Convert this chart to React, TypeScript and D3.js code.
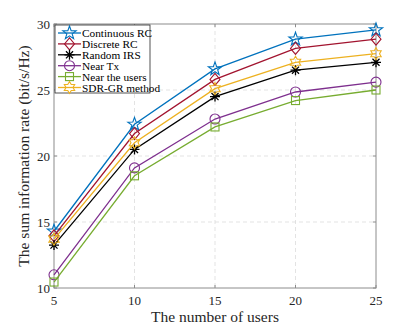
import React from 'react';
import * as d3 from 'd3';

const users = [5, 10, 15, 20, 25];
const continuousRC = [14.3, 22.4, 26.6, 28.85, 29.55];
const discreteRC = [13.95, 21.7, 25.8, 28.15, 28.85];
const randomIRS = [13.25, 20.5, 24.5, 26.5, 27.1];
const nearTx = [11.0, 19.1, 22.8, 24.85, 25.6];
const nearUsers = [10.45, 18.5, 22.2, 24.2, 25.0];
const sdrGR = [13.7, 21.0, 25.1, 27.1, 27.75];

const xTicks = [5, 10, 15, 20, 25];
const yTicks = [10, 15, 20, 25, 30];

const series = [
  { name: 'Continuous RC', values: continuousRC, color: '#0072BD', marker: 'star' },
  { name: 'Discrete RC', values: discreteRC, color: '#A2142F', marker: 'diamond' },
  { name: 'Random IRS', values: randomIRS, color: '#000000', marker: 'asterisk' },
  { name: 'Near Tx', values: nearTx, color: '#7E2F8E', marker: 'circle' },
  { name: 'Near the users', values: nearUsers, color: '#77AC30', marker: 'square' },
  { name: 'SDR-GR method', values: sdrGR, color: '#EDB120', marker: 'hexagram' },
];

const width = 415;
const height = 327;
const margin = { left: 54, right: 39, top: 24, bottom: 39 };

// marker drawn around (0,0)
const Marker = ({ type, color }: { type: string; color: string }) => {
  const common = { fill: 'none', stroke: color, strokeWidth: 1.1 };
  if (type === 'star') {
    const pts: string[] = [];
    for (let i = 0; i < 10; i++) {
      const r = i % 2 === 0 ? 7 : 2.8;
      const a = -Math.PI / 2 + (i * Math.PI) / 5;
      pts.push(`${r * Math.cos(a)},${r * Math.sin(a)}`);
    }
    return <polygon points={pts.join(' ')} {...common} />;
  }
  if (type === 'hexagram') {
    const pts: string[] = [];
    for (let i = 0; i < 12; i++) {
      const r = i % 2 === 0 ? 6 : 3.5;
      const a = -Math.PI / 2 + (i * Math.PI) / 6;
      pts.push(`${r * Math.cos(a)},${r * Math.sin(a)}`);
    }
    return <polygon points={pts.join(' ')} {...common} />;
  }
  if (type === 'diamond') {
    return <polygon points="0,-6 5,0 0,6 -5,0" {...common} />;
  }
  if (type === 'circle') {
    return <circle r={5} {...common} />;
  }
  if (type === 'square') {
    return <rect x={-4} y={-4} width={8} height={8} {...common} />;
  }
  // asterisk
  const lines = [0, 45, 90, 135].map((deg) => {
    const a = (deg * Math.PI) / 180;
    return `M${-5 * Math.cos(a)},${-5 * Math.sin(a)}L${5 * Math.cos(a)},${5 * Math.sin(a)}`;
  });
  return <path d={lines.join('')} fill="none" stroke={color} strokeWidth={1.3} />;
};

export default function App() {
  const xScale = d3.scaleLinear().domain([5, 25]).range([margin.left, width - margin.right]);
  const yScale = d3.scaleLinear().domain([10, 30]).range([height - margin.bottom, margin.top]);

  const line = d3
    .line<number>()
    .x((_, i) => xScale(users[i]))
    .y((d) => yScale(d));

  const x0 = xScale(5);
  const x1 = xScale(25);
  const y0 = yScale(10);
  const y1 = yScale(30);
  const font = '"Liberation Serif", "Times New Roman", serif';

  return (
    <svg
      width={width}
      height={height}
      style={{ position: 'absolute', left: 0, top: 0, background: '#fff' }}
      fontFamily={font}
    >
      <rect x={x0} y={y1} width={x1 - x0} height={y0 - y1} fill="#fff" />
      {/* grid */}
      {xTicks.slice(1, -1).map((t) => (
        <line key={'gx' + t} x1={xScale(t)} x2={xScale(t)} y1={y1} y2={y0} stroke="#dcdcdc" strokeDasharray="4,3" strokeWidth={0.8} />
      ))}
      {yTicks.slice(1, -1).map((t) => (
        <line key={'gy' + t} x1={x0} x2={x1} y1={yScale(t)} y2={yScale(t)} stroke="#dcdcdc" strokeDasharray="4,3" strokeWidth={0.8} />
      ))}
      {/* axes box */}
      <rect x={x0} y={y1} width={x1 - x0} height={y0 - y1} fill="none" stroke="#8c8c8c" strokeWidth={1} />
      {xTicks.map((t) => (
        <g key={'tx' + t}>
          <line x1={xScale(t)} x2={xScale(t)} y1={y0} y2={y0 - 3} stroke="#8c8c8c" />
          <line x1={xScale(t)} x2={xScale(t)} y1={y1} y2={y1 + 3} stroke="#8c8c8c" />
          <text x={xScale(t)} y={y0 + 17} textAnchor="middle" fontSize={13} fill="#262626">
            {t}
          </text>
        </g>
      ))}
      {yTicks.map((t) => (
        <g key={'ty' + t}>
          <line x1={x0} x2={x0 + 3} y1={yScale(t)} y2={yScale(t)} stroke="#8c8c8c" />
          <line x1={x1} x2={x1 - 3} y1={yScale(t)} y2={yScale(t)} stroke="#8c8c8c" />
          <text x={x0 - 4} y={yScale(t) + 4.5} textAnchor="end" fontSize={13} fill="#262626">
            {t}
          </text>
        </g>
      ))}
      <text x={(x0 + x1) / 2} y={y0 + 34} textAnchor="middle" fontSize={15.5} fill="#262626">
        The number of users
      </text>
      <text
        transform={`translate(${29},${(y0 + y1) / 2}) rotate(-90)`}
        textAnchor="middle"
        fontSize={15.5}
        fill="#262626"
      >
        The sum information rate (bit/s/Hz)
      </text>
      {/* lines */}
      {series.map((s) => (
        <g key={s.name}>
          <path d={line(s.values) || ''} fill="none" stroke={s.color} strokeWidth={1.3} />
          {s.values.map((v, i) => (
            <g key={i} transform={`translate(${xScale(users[i])},${yScale(v)})`}>
              <Marker type={s.marker} color={s.color} />
            </g>
          ))}
        </g>
      ))}
      {/* legend */}
      <g transform={`translate(${x0 + 1},${y1 + 1})`}>
        <rect x={0} y={0} width={95} height={68} fill="#fff" stroke="#262626" strokeWidth={0.8} />
        {series.map((s, i) => {
          const cy = 8 + i * 10.9;
          return (
            <g key={s.name}>
              <line x1={3} x2={26} y1={cy} y2={cy} stroke={s.color} strokeWidth={1.3} />
              <g transform={`translate(14.5,${cy})`}>
                <Marker type={s.marker} color={s.color} />
              </g>
              <text x={27} y={cy + 4} fontSize={11.3} fill="#000">
                {s.name}
              </text>
            </g>
          );
        })}
      </g>
    </svg>
  );
}
